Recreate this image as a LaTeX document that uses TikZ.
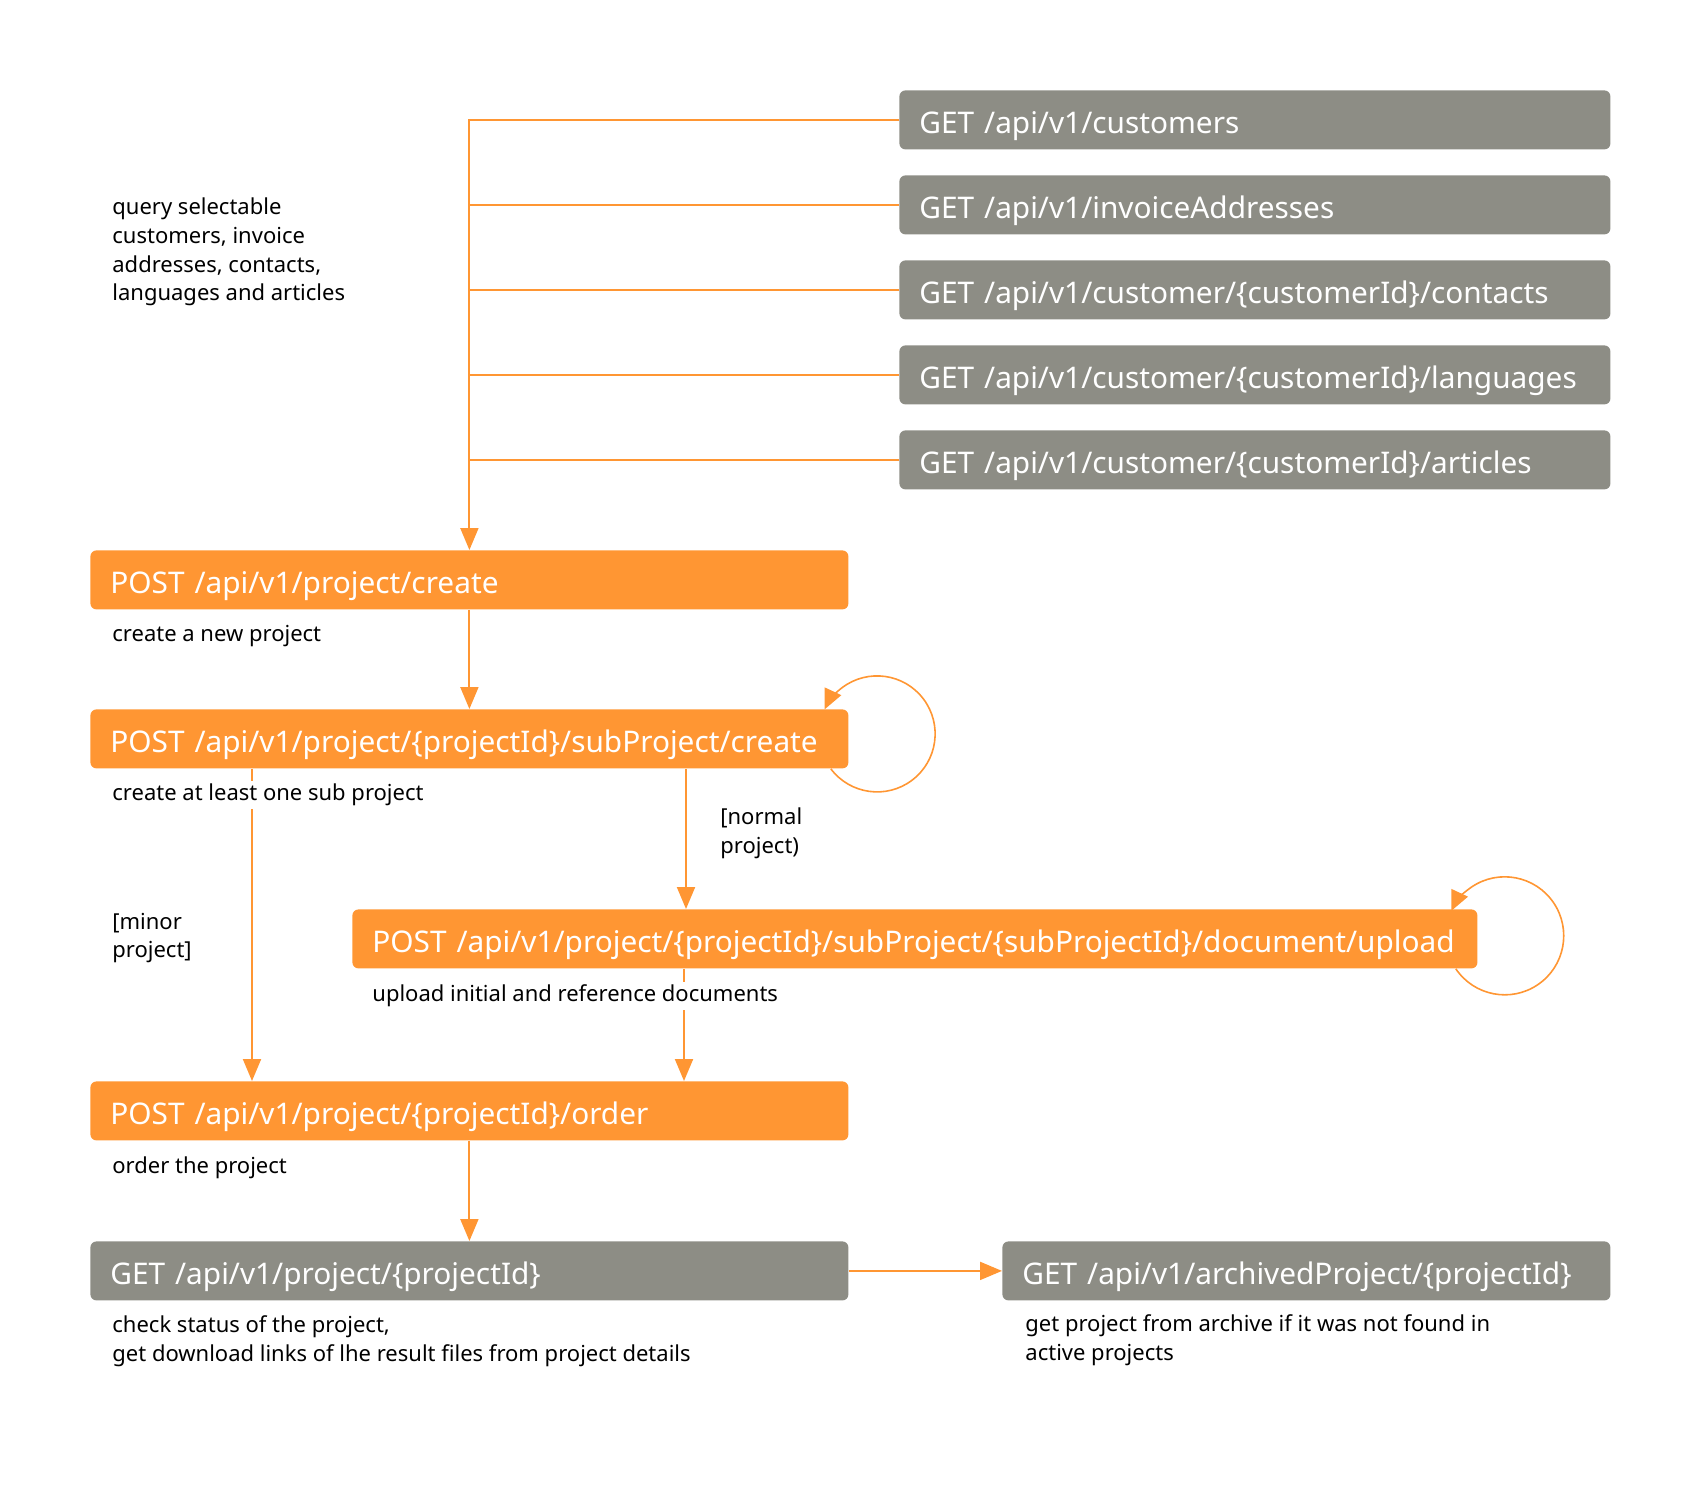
\documentclass[tikz,border=0pt]{standalone}
\usepackage{fontspec}
\setmainfont{Noto Sans}
\usetikzlibrary{arrows.meta}
\definecolor{og}{HTML}{FF9633}
\definecolor{gy}{HTML}{8D8D85}
\begin{document}
\begin{tikzpicture}[x=0.5pt,y=-0.5pt,
 bx/.style={rounded corners=3pt, anchor=north west, inner xsep=10pt, inner ysep=0pt,
   minimum height=29.5pt, align=left, text=white, text height=14pt, text depth=0pt,
   font=\fontsize{14.9}{16}\selectfont},
 gbox/.style={bx, fill=gy},
 obox/.style={bx, fill=og},
 desc/.style={anchor=west, align=left, inner xsep=0pt, inner ysep=1.5pt, fill=white,
   yshift=-1.5pt, font=\fontsize{11}{14.3}\selectfont},
 ln/.style={draw=og, line width=1pt},
 arr/.style={ln, -{Triangle[length=11pt,width=9pt]}},
 lp/.style={draw=og, line width=0.8pt, -{Triangle[length=10pt,width=9pt]}}
]
\useasboundingbox (0,0) rectangle (1702,1490);
% GET boxes
\node[gbox, text width=335.5pt] (c1) at (899,90) {GET /api/v1/customers};
\node[gbox, text width=335.5pt] (c2) at (899,175) {GET /api/v1/invoiceAddresses};
\node[gbox, text width=335.5pt] (c3) at (899,260) {GET /api/v1/customer/\{customerId\}/contacts};
\node[gbox, text width=335.5pt] (c4) at (899,345) {GET /api/v1/customer/\{customerId\}/languages};
\node[gbox, text width=335.5pt] (c5) at (899,430) {GET /api/v1/customer/\{customerId\}/articles};
% main flow
\node[obox, text width=359pt] (create) at (90,550) {POST /api/v1/project/create};
\node[obox, text width=359pt] (sub) at (90,709) {POST /api/v1/project/\{projectId\}/subProject/create};
\node[obox, text width=542.5pt] (up) at (352,909) {POST /api/v1/project/\{projectId\}/subProject/\{subProjectId\}/document/upload};
\node[obox, text width=359pt] (order) at (90,1081) {POST /api/v1/project/\{projectId\}/order};
\node[gbox, text width=359pt] (getp) at (90,1241) {GET /api/v1/project/\{projectId\}};
\node[gbox, text width=284pt] (arch) at (1002,1241) {GET /api/v1/archivedProject/\{projectId\}};
% connectors
\draw[arr] (c1.west) -| (create.north);
\draw[ln] (c2.west) -- (c2.west -| create.north);
\draw[ln] (c3.west) -- (c3.west -| create.north);
\draw[ln] (c4.west) -- (c4.west -| create.north);
\draw[ln] (c5.west) -- (c5.west -| create.north);
\draw[arr] (create.south) -- (sub.north);
\draw[lp] ([xshift=-9pt]sub.south east) arc[start angle=217, end angle=515, radius=29pt];
\draw[arr] ([xshift=81pt]sub.south west) -- ([xshift=81pt]order.north west);
\draw[arr] ([xshift=298pt]sub.south west) -- ([xshift=167pt]up.north west);
\draw[lp] ([xshift=-11pt]up.south east) arc[start angle=214, end angle=515, radius=29.5pt];
\draw[arr] ([xshift=166pt]up.south west) -- ([xshift=297pt]order.north west);
\draw[arr] (order.south) -- (getp.north);
\draw[arr] (getp.east) -- (arch.west);
% descriptions
\node[desc] (dq) at (112,249) {query selectable\\customers, invoice\\addresses, contacts,\\languages and articles};
\node[desc] (dc) at (112,633) {create a new project};
\node[desc] (ds) at (112,792) {create at least one sub project};
\node[desc] (dm) at (112,935) {[minor\\project]};
\node[desc] (dn) at (720,830) {[normal\\project)};
\node[desc] (du) at (372,993) {upload initial and reference documents};
\node[desc] (do) at (112,1165) {order the project};
\node[desc] (dg) at (112,1338) {check status of the project,\\get download links of lhe result files from project details};
\node[desc] (da) at (1025,1337) {get project from archive if it was not found in\\active projects};
\end{tikzpicture}
\end{document}
